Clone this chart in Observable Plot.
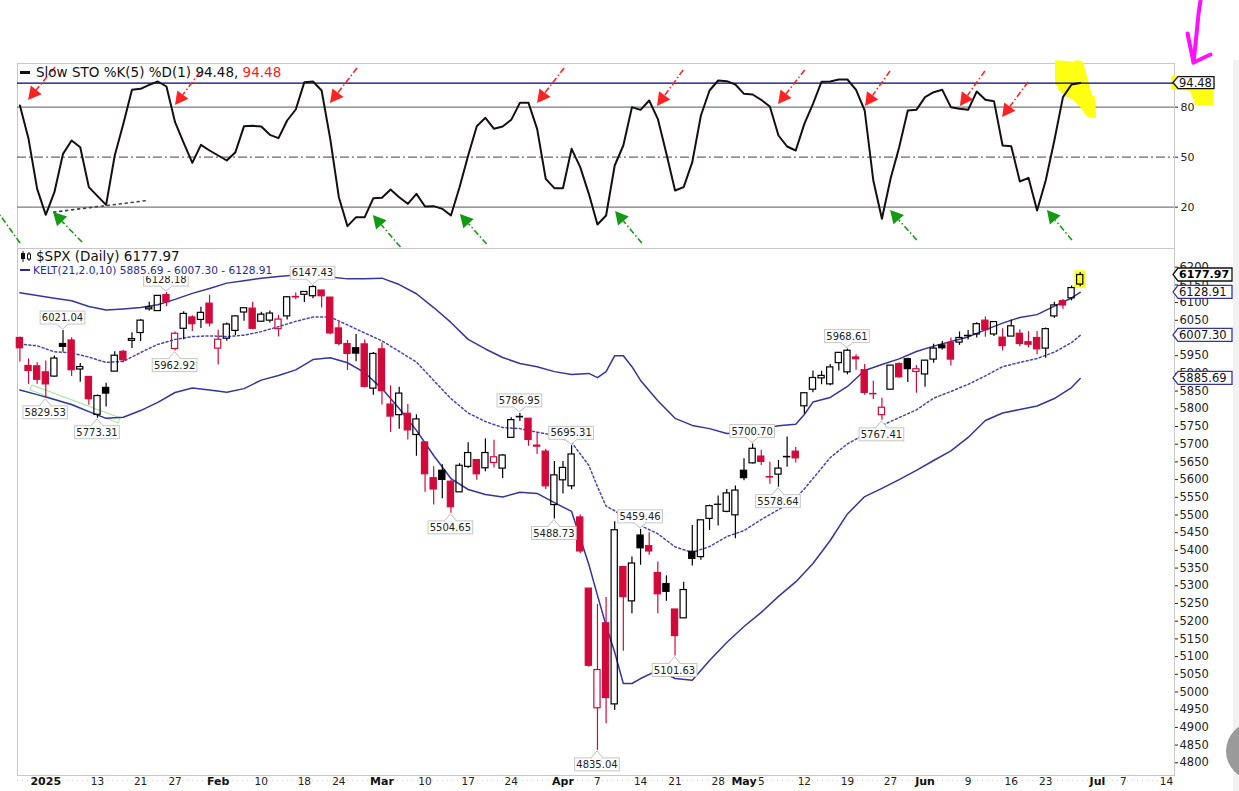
<!DOCTYPE html>
<html><head><meta charset="utf-8">
<script src="https://cdn.jsdelivr.net/npm/d3@7"></script>
<script src="https://cdn.jsdelivr.net/npm/@observablehq/plot@0.6"></script>
<style>
html,body{margin:0;padding:0;background:#fff}
body{width:1239px;height:791px;overflow:hidden;position:relative;font-family:"DejaVu Sans",sans-serif;color:#222}
#top,#bot{position:absolute;left:0}
#top{top:0} #bot{top:248px}
.leg{position:absolute;white-space:nowrap;line-height:1.15}
#strip{position:absolute;left:1233px;top:60px;width:6px;height:731px;background:#f1f1f1}
#knob{position:absolute;left:1226px;top:722px;width:58px;height:58px;border-radius:50%;background:#9a9a9a}
</style></head><body>
<div id="top"></div><div id="bot"></div>
<div id="strip"></div><div id="knob"></div>
<div class="leg" style="left:20px;top:65px;font-size:13.5px;color:#111"><span style="display:inline-block;width:10px;height:3px;background:#111;vertical-align:middle;margin-right:6px;position:relative;top:-1px"></span><span id="stoTxt"></span><span id="stoRed" style="color:#ff1a1a"></span></div>
<div class="leg" style="left:20px;top:249px;font-size:13.5px;color:#111;background:#fff"><svg width="13" height="11" style="vertical-align:-1px;margin-right:3px"><line x1="3" y1="0" x2="3" y2="11" stroke="#111"/><rect x="1" y="2" width="4" height="6" fill="#111"/><line x1="9" y1="1" x2="9" y2="10" stroke="#111"/><rect x="7.5" y="3" width="3" height="5" fill="#fff" stroke="#111"/></svg><span id="spxTxt"></span></div>
<div class="leg" style="left:20px;top:264px;font-size:10.6px;color:#2a2a9a;background:#fff;padding-right:2px"><span style="display:inline-block;width:10px;height:2px;background:#2a2a9a;vertical-align:middle;margin-right:3px;position:relative;top:-1px"></span><span id="keltTxt"></span></div>
<script>
// ---------- calendar ----------
const holidays = ["2025-01-01","2025-01-09","2025-01-20","2025-02-17","2025-04-18","2025-05-26","2025-06-19","2025-07-04"];
const fmtDay = d3.utcFormat("%Y-%m-%d");
const calendar = d3.utcDay.range(new Date(Date.UTC(2024,11,27)), new Date(Date.UTC(2025,6,16)))
  .filter(d => d.getUTCDay() !== 0 && d.getUTCDay() !== 6).map(fmtDay).filter(s => !holidays.includes(s));
const pos = new Map(calendar.map((s, i) => [s, i]));

// ---------- price data ($SPX daily) ----------
const firstCandle = "2024-12-27";
const prevClose = 6037.59;
const opens = [6000,5921,5920,5903,5891,5983,5993,5911,5890,5783,
5859,5905,5961,5992,6014,6081,6076,6121,5969,6026,
6058,6051,6097,5970,5998,6020,6072,6083,6046,6049,
6025,6061,6116,6122,6118,6134,6114,6027,5983,5971,
5982,5857,5968,5812,5782,5786,5726,5705,5604,5625,
5594,5564,5636,5655,5632,5647,5631,5718,5776,5772,
5696,5679,5528,5598,5581,5493,5292,4954,5194,4965,
5353,5256,5442,5412,5336,5305,5233,5208,5396,5381,
5489,5529,5509,5499,5625,5646,5665,5606,5614,5663,
5679,5807,5854,5886,5869,5929,5903,5945,5909,5841,
5782,5854,5926,5940,5904,5897,5939,5979,5986,5987,
6005,6010,6049,6010,6001,6004,6012,5988,6000,5970,
6061,6104,6112,6151];
const highs = [6003,5941,5930,5935,5949,6021.04,6001,5928,5891,5839,
5872,5961,5965,6015,6052,6101,6119,6128.18,6017,6074,
6063,6087,6121,6022,6042,6063,6084,6101,6073,6076,
6064,6117,6127,6130,6147.43,6135,6115,6044,5993,6010,
5994,5959,5986,5865,5861,5812,5783,5705,5636,5642,
5598,5645,5704,5655,5715,5711,5671,5775,5786.95,5772,
5732,5686,5651,5651,5695.31,5500,5292,5247,5267,5481,
5353,5381,5459.46,5450,5367,5328,5233,5310,5470,5485,
5528,5554,5572,5582,5659,5700.70,5683,5649,5654,5720,
5691,5844,5907,5906,5925,5959,5968.61,5953,5925,5878,
5830,5922,5930,5943,5922,5937,5982,5990,6000,6017,
6021,6043,6059,6045,6026,6051,6023,6018,6018,6028,
6101,6109,6147,6185];
const lows = [5932,5869,5869,5829.53,5889,5960,5891,5875,5810,5773.31,
5805,5905,5930,5970,5990,6076,6075,6089,5962.92,5995,
6018,6027,6031,5924,5991,6007,6047,6023,6045,6042,
6003,6051,6108,6100,6111,6085,6009,5978,5908,5933,
5859,5838,5811,5733,5742,5712,5666,5564,5528,5546,
5504.65,5564,5631,5598,5622,5633,5603,5718,5764,5694,
5671,5572,5488.73,5559,5571,5391,5070,4835.04,4910,4948,
5115,5221,5358,5386,5221,5256,5101.63,5208,5356,5372,
5456,5469,5506,5433,5597,5644,5640,5587,5578.64,5635,
5647,5785,5845,5868,5865,5907,5896,5909,5838,5826,
5767.41,5854,5886,5874,5844,5861,5929,5966,5921,5979,
5994,6000,6002,6004,5963,6004,5975,5972,5953,5943,
6055,6081,6105,6145];
const closes = [5971,5907,5882,5869,5942,5975,5909,5918,5827,5836,
5843,5950,5937,5997,6049,6086,6119,6101,6012,6068,
6039,6071,6041,5995,6038,6061,6084,6026,6066,6069,
6052,6115,6114.6,6130,6144,6118,6013,5983,5955,5956,
5862,5955,5850,5778,5843,5739,5770,5615,5572,5599,
5522,5639,5675,5615,5675,5663,5668,5768,5777,5712,
5693,5581,5612,5633,5671,5397,5074,5062,4983,5457,
5268,5363,5406,5397,5276,5283,5158,5288,5376,5485,
5525,5528.7,5561,5569,5604,5687,5650,5607,5631,5664,
5660,5844,5887,5893,5917,5958,5964,5940,5845,5842,
5803,5922,5889,5912,5911.7,5936,5970,5971,5939,6000,
6006,6039,6022,6045,5977,6033,5983,5981,5968,6025,
6092,6091.9,6141,6177.97];

// ---------- Keltner channel KELT(21,2.0,10) ----------
const keltDates = ["2024-12-27","2024-12-31","2025-01-03","2025-01-07","2025-01-10","2025-01-14","2025-01-16","2025-01-21","2025-01-23","2025-01-27",
"2025-01-29","2025-01-31","2025-02-04","2025-02-06","2025-02-10","2025-02-12","2025-02-14","2025-02-19","2025-02-21","2025-02-25",
"2025-02-27","2025-03-03","2025-03-05","2025-03-07","2025-03-11","2025-03-13","2025-03-17","2025-03-19","2025-03-21","2025-03-25",
"2025-03-27","2025-03-31","2025-04-02","2025-04-04","2025-04-07","2025-04-08","2025-04-09","2025-04-10","2025-04-11","2025-04-14",
"2025-04-16","2025-04-21","2025-04-23","2025-04-25","2025-04-29","2025-05-01","2025-05-05","2025-05-07","2025-05-09","2025-05-12",
"2025-05-13","2025-05-15","2025-05-19","2025-05-21","2025-05-23","2025-05-28","2025-05-30","2025-06-03","2025-06-05","2025-06-09",
"2025-06-11","2025-06-13","2025-06-17","2025-06-20","2025-06-24","2025-06-26","2025-06-27"];
const keltUpper = [6128,6120,6112,6105,6089,6079,6082,6086,6094,6109,6126,6140,6155,6162,6169,6174,6178,6175,6172,6167,
6167,6169,6151,6125,6086,6044,5996,5969,5945,5928,5919,5905,5897,5900,5888,5905,5950,5950,5919,5880,
5823,5773,5753,5744,5730,5732,5743,5752,5756,5784,5819,5832,5863,5908,5925,5941,5962,5977,5990,6003,
6023,6042,6058,6066,6090,6113,6128.91];
const keltMid = [5983,5978,5961,5958,5946,5931,5934,5959,5982,5996,6004,6006,6004,6008,6018,6032,6047,6059,6059,6037,
6014,5992,5962,5932,5880,5829,5788,5764,5747,5744,5734,5725,5705,5640,5580,5525,5512,5495,5482,5470,
5447,5410,5394,5411,5439,5456,5487,5515,5547,5574,5603,5662,5701,5727,5753,5775,5797,5830,5849,5869,
5893,5919,5931,5942,5960,5987,6007.30];
const keltLower = [5853,5840,5826,5812,5792,5773,5776,5795,5818,5846,5859,5853,5847,5857,5881,5894,5910,5939,5944,5930,
5902,5857,5801,5739,5668,5603,5572,5558,5551,5564,5561,5535,5510,5360,5273,5188,5112,5024,5024,5038,
5061,5038,5033,5089,5140,5185,5225,5270,5311,5337,5363,5428,5503,5552,5575,5600,5626,5654,5681,5719,
5767,5788,5798,5808,5829,5860,5885.69];

// ---------- Slow STO %K(5) ----------
const stochK = [81,61,31,15.4,29,52,60,56,32,26.6,
21.4,51,70,90.4,91,93.4,95.4,92.4,71,58.6,
46.6,57.4,54,51,48,53,68.6,68.8,68.4,63.4,
61.4,72,78.6,95,95.4,90,61,26,8.6,14,
14,25.4,25.6,30.6,26,22,28,20.4,20.6,19,
15,32,51,68.6,73.6,67,68.4,72.4,82.6,82.6,
67,37,31.4,31.4,55,44,28,9.6,15,45,
57,80,78.4,84,73,52,30,32,47,75,
90,96,95.6,93.6,88,87.6,84.4,80.4,63,56.4,
54,70,82,95.3,95.4,96.6,96.6,90.4,78,36,
13,37,56,78,78.4,86,89,90.4,80,79,
78.4,89.4,84.4,83.6,57,56.6,35.4,37.6,18,36,
60,86,93.6,94.48];
const stochLevels = [20, 80];
const stochMidLevel = [50];

// ---------- labelled highs / lows ----------
const labelDates = ["2025-01-02","2025-01-06","2025-01-13","2025-01-24","2025-01-27","2025-02-19","2025-03-13","2025-03-25","2025-03-31","2025-04-02","2025-04-07","2025-04-14","2025-04-21","2025-05-02","2025-05-07","2025-05-19","2025-05-23"];
const labelSides = ["low","high","low","high","low","high","low","high","low","high","low","high","low","high","low","high","low"];

// ---------- axis ticks ----------
const priceTicks = d3.range(4800, 6201, 50);
const stochTicks = [20, 50, 80];
const xTickDates = ["2025-01-02","2025-01-13","2025-01-21","2025-01-27","2025-02-03","2025-02-10","2025-02-18","2025-02-24","2025-03-03","2025-03-10","2025-03-17","2025-03-24","2025-04-01","2025-04-07","2025-04-14","2025-04-21","2025-04-28","2025-05-01","2025-05-05","2025-05-12","2025-05-19","2025-05-27","2025-06-02","2025-06-09","2025-06-16","2025-06-23","2025-07-01","2025-07-07","2025-07-14"];
const xTickLabels = ["2025","13","21","27","Feb","10","18","24","Mar","10","17","24","Apr","7","14","21","28","May","5","12","19","27","Jun","9","16","23","Jul","7","14"];

// ---------- annotations (day offset from first candle, indicator value) ----------
const redArrowTips = [[1.0,84],[18.05,81],[36.03,82.2],[60.05,82.2],[73.97,80.4],[88.0,81.6],[98.1,80.4],[109.1,80.4],[114.0,73.8]];
const redArrowTails = [[4.13,103.8],[20.95,100.8],[39.16,103.2],[63.18,103.2],[76.99,102],[91.1,102],[101.0,101.4],[112.0,101.4],[117.0,94.8]];
const greenArrowTips = [[3.9,16.8],[41.0,15],[51.1,15.6],[69.1,17.4],[101.0,18],[119.2,18]];
const greenArrowTails = [[7.26,-1.2],[44.2,-4.2],[54.2,-2.4],[72.2,-1.8],[104.1,0],[122.1,0]];
const greenArrowStub = [[-2.25,15],[0.07,-1.8]];
const stochTrend = [[3.93,17],[14.77,24]];
const yellowBlobs = [
  [[120.14,108],[122.23,107],[122.69,108],[123.39,107],[123.85,98],[124.43,87],[124.78,86],[124.9,73],[123.85,74],[123.04,80],[122.23,84],[121.53,86],[120.72,89],[120.14,94]],
  [[133.6,98.6],[138.5,98.6],[138.5,81],[136.4,81],[135.8,89.5],[133.6,90.4]]
];
const magentaStroke = [[136.96,144],[136.73,136.2],[136.5,124.2],[136.15,106.8],[138.12,111.6]];
const magentaBranch = [[135.45,124.2],[136.15,106.8]];
const greenBox = [[1.43,5866],[11.67,5773],[11.47,5759],[1.23,5852]];
const lastCandleMark = {date: "2025-06-27", lo: 6140, hi: 6190};

// ---------- derived tables ----------
const RED = "#d20a3c", NAVY = "#3434a2";
const k0 = pos.get(firstCandle);
const candles = opens.map((o, i) => {
  const c = closes[i], prev = i ? closes[i - 1] : prevClose;
  const col = c >= prev ? "#000000" : RED;
  return {k: k0 + i, o, h: highs[i], l: lows[i], c, col, fill: c >= o ? "none" : col,
          top: Math.max(o, c), bot: Math.min(o, c)};
});
const kelt = keltDates.map((d, i) => ({k: pos.get(d), up: keltUpper[i], mid: keltMid[i], lo: keltLower[i]}));
const stoch = stochK.map((v, i) => ({k: k0 + i, v}));
const priceLabels = labelDates.map((d, i) => {
  const j = pos.get(d) - k0;
  return {k: pos.get(d), side: labelSides[i], v: labelSides[i] === "high" ? highs[j] : lows[j]};
});
const xTicks = xTickDates.map((d, i) => ({k: pos.get(d), label: xTickLabels[i], bold: !/^\d{1,2}$/.test(xTickLabels[i])}));

const f2 = v => v.toFixed(2);
const lastClose = closes[closes.length - 1], lastK = stochK[stochK.length - 1];
document.getElementById("stoTxt").textContent = `Slow STO %K(5) %D(1) ${f2(lastK)}, `;
document.getElementById("stoRed").textContent = f2(lastK);
document.getElementById("spxTxt").textContent = `$SPX (Daily) ${f2(lastClose)}`;
document.getElementById("keltTxt").textContent =
  `KELT(21,2.0,10) ${f2(keltLower.at(-1))} - ${f2(keltMid.at(-1))} - ${f2(keltUpper.at(-1))}`;

// ---------- custom render helpers ----------
function polygons(list, attrs) {
  return (index, {x, y}) => {
    const g = d3.create("svg:g");
    for (const pts of list) {
      const p = g.append("path").attr("d", "M" + pts.map(q => `${x(q[0])},${y(q[1])}`).join("L") + "Z");
      for (const [a, v] of Object.entries(attrs)) p.attr(a, v);
    }
    return g.node();
  };
}
function arrows(tips, tails, color, head) {
  return (index, {x, y}) => {
    const g = d3.create("svg:g");
    tips.forEach((t, i) => {
      const tx = x(t[0]), ty = y(t[1]), sx = x(tails[i][0]), sy = y(tails[i][1]);
      const dx = tx - sx, dy = ty - sy, L = Math.hypot(dx, dy), ux = dx / L, uy = dy / L;
      const hl = head ? 13 : 0, hw = 7;
      const bx = tx - ux * hl, by = ty - uy * hl;
      g.append("line").attr("x1", sx).attr("y1", sy).attr("x2", bx).attr("y2", by)
        .attr("stroke", color).attr("stroke-width", 1.6).attr("stroke-dasharray", "6,2.5,1.5,2.5");
      if (head) g.append("path").attr("d", `M${tx},${ty}L${bx - uy * hw},${by + ux * hw}L${bx + uy * hw},${by - ux * hw}Z`).attr("fill", color);
    });
    return g.node();
  };
}
function badges(items) {
  return (index, {y}, values, dims) => {
    const g = d3.create("svg:g").attr("font-family", "DejaVu Sans").attr("text-anchor", "start");
    const x0 = dims.width - dims.marginRight;
    for (const b of items) {
      const yy = y(b.v), h = b.h, w = b.w;
      g.append("path").attr("d", `M${x0 - 1},${yy}L${x0 + 4},${yy - h / 2}H${x0 + 4 + w}V${yy + h / 2}H${x0 + 4}Z`)
        .attr("fill", "#fff").attr("stroke", b.stroke).attr("stroke-width", 1.3);
      g.append("text").attr("x", x0 + 5).attr("y", yy).attr("dy", "0.36em").attr("font-size", b.size)
        .attr("text-anchor", "start")
        .attr("font-weight", b.bold ? "bold" : "normal").attr("fill", b.color).text(b.text);
    }
    return g.node();
  };
}
function labelBoxes(items) {
  return (index, {x, y}) => {
    const g = d3.create("svg:g").attr("font-family", "DejaVu Sans").attr("font-size", 10);
    for (const it of items) {
      const cx = x(it.k), py = y(it.v), txt = f2(it.v);
      const w = txt.length * 6.1 + 2, h = 13;
      const hi = it.side === "high";
      const top = hi ? py - 6 - h : py + 8;
      const edge = hi ? top + h : top;
      const tipY = hi ? py - 1 : py + 1;
      g.append("path").attr("d", `M${cx - 6},${edge}L${cx},${tipY}L${cx + 6},${edge}`).attr("fill", "#fff").attr("stroke", "#bdbdbd");
      g.append("rect").attr("x", cx - w / 2).attr("y", top).attr("width", w).attr("height", h)
        .attr("fill", "#fff").attr("stroke", "#c6c6c6");
      g.append("path").attr("d", `M${cx - 5},${edge}H${cx + 5}`).attr("stroke", "#fff").attr("stroke-width", 1.5);
      g.append("text").attr("x", cx).attr("y", top + h / 2).attr("dy", "0.36em").attr("text-anchor", "middle").attr("fill", "#222").text(txt);
    }
    return g.node();
  };
}

const xScale = {domain: [-0.28, 133.94], axis: null};
const W = 1239, ML = 17, MR = 65;

// ---------- stochastic panel ----------
const topPlot = Plot.plot({
  width: W, height: 248, marginTop: 63, marginBottom: 0, marginLeft: ML, marginRight: MR,
  x: xScale,
  y: {domain: [-4.8, 106.2], axis: "right", ticks: stochTicks, tickSize: 3, tickPadding: 3, tickFormat: d => String(d), label: null},
  style: {fontFamily: "DejaVu Sans", fontSize: "11px", color: "#222", background: "transparent"},
  marks: [
    Plot.frame({stroke: "#c8c8c8"}),
    Plot.ruleY(stochLevels, {stroke: "#7a7a7a", strokeWidth: 1.3}),
    Plot.ruleY(stochMidLevel, {stroke: "#6a6a6a", strokeWidth: 1.2, strokeDasharray: "9,3,2,3"}),
    polygons(yellowBlobs, {fill: "#ffff14"}),
    Plot.ruleY([lastK], {stroke: "#00007a", strokeWidth: 1.3}),
    Plot.line(stoch, {x: "k", y: "v", stroke: "#151010", strokeWidth: 2, strokeLinejoin: "round"}),
    Plot.line(stochTrend, {x: d => d[0], y: d => d[1], stroke: "#444", strokeWidth: 1.7, strokeDasharray: "2,4"}),
    arrows(redArrowTips, redArrowTails, "#ff2424", true),
    arrows(greenArrowTips, greenArrowTails, "#139a13", true),
    arrows([greenArrowStub[0]], [greenArrowStub[1]], "#139a13", false),
    Plot.line(magentaStroke, {x: d => d[0], y: d => d[1], stroke: "#ff10ff", strokeWidth: 4, strokeLinecap: "round", strokeLinejoin: "round"}),
    Plot.line(magentaBranch, {x: d => d[0], y: d => d[1], stroke: "#ff10ff", strokeWidth: 4, strokeLinecap: "round"}),
    badges([{v: lastK, text: f2(lastK), stroke: "#111", color: "#111", size: 11.5, w: 36, h: 12, bold: false}])
  ]
});
document.getElementById("top").append(topPlot);

// ---------- price panel ----------
const lastKPos = pos.get(lastCandleMark.date);
const botPlot = Plot.plot({
  width: W, height: 543, marginTop: 0, marginBottom: 16, marginLeft: ML, marginRight: MR,
  x: xScale,
  y: {domain: [4764.1, 6252.8], axis: "right", ticks: priceTicks, tickSize: 3, tickPadding: 2, tickFormat: d => String(d), label: null},
  color: {type: "identity"},
  style: {fontFamily: "DejaVu Sans", fontSize: "11.5px", color: "#222", background: "transparent"},
  marks: [
    Plot.frame({stroke: "#c8c8c8"}),
    Plot.ruleY([4764.1], {stroke: "#cfcfcf", strokeDasharray: "1,4", dy: 5}),
    polygons([greenBox], {fill: "none", stroke: "#9be39b", "stroke-width": 1}),
    Plot.line(kelt, {x: "k", y: "up", stroke: NAVY, strokeWidth: 1.5}),
    Plot.line(kelt, {x: "k", y: "lo", stroke: NAVY, strokeWidth: 1.5}),
    Plot.line(kelt, {x: "k", y: "mid", stroke: "#4444bb", strokeWidth: 1.5, strokeDasharray: "2,2.5"}),
    Plot.rect([lastCandleMark], {x1: () => lastKPos - 0.62, x2: () => lastKPos + 0.62, y1: "lo", y2: "hi", fill: "#ffff22"}),
    Plot.ruleX(candles, {x: "k", y1: "h", y2: "top", stroke: "col", strokeWidth: 1.2}),
    Plot.ruleX(candles, {x: "k", y1: "bot", y2: "l", stroke: "col", strokeWidth: 1.2}),
    Plot.rect(candles, {x1: d => d.k - 0.36, x2: d => d.k + 0.36, y1: "o", y2: "c", fill: "fill", stroke: "col", strokeWidth: 1.2}),
    labelBoxes(priceLabels),
    Plot.text(xTicks.filter(t => t.bold), {x: "k", text: "label", frameAnchor: "bottom", dy: 9, fontWeight: "bold", fontSize: 11, fill: "#111"}),
    Plot.text(xTicks.filter(t => !t.bold), {x: "k", text: "label", frameAnchor: "bottom", dy: 9, fontSize: 10.5, fill: "#222"}),
    badges([
      {v: lastClose, text: f2(lastClose), stroke: "#111", color: "#000", size: 11, w: 54, h: 13, bold: true},
      {v: keltUpper.at(-1), text: f2(keltUpper.at(-1)), stroke: NAVY, color: "#111", size: 11.5, w: 54, h: 13, bold: false},
      {v: keltMid.at(-1), text: f2(keltMid.at(-1)), stroke: NAVY, color: "#111", size: 11.5, w: 54, h: 13, bold: false},
      {v: keltLower.at(-1), text: f2(keltLower.at(-1)), stroke: NAVY, color: "#111", size: 11.5, w: 54, h: 13, bold: false}
    ])
  ]
});
document.getElementById("bot").append(botPlot);
</script>
</body></html>
